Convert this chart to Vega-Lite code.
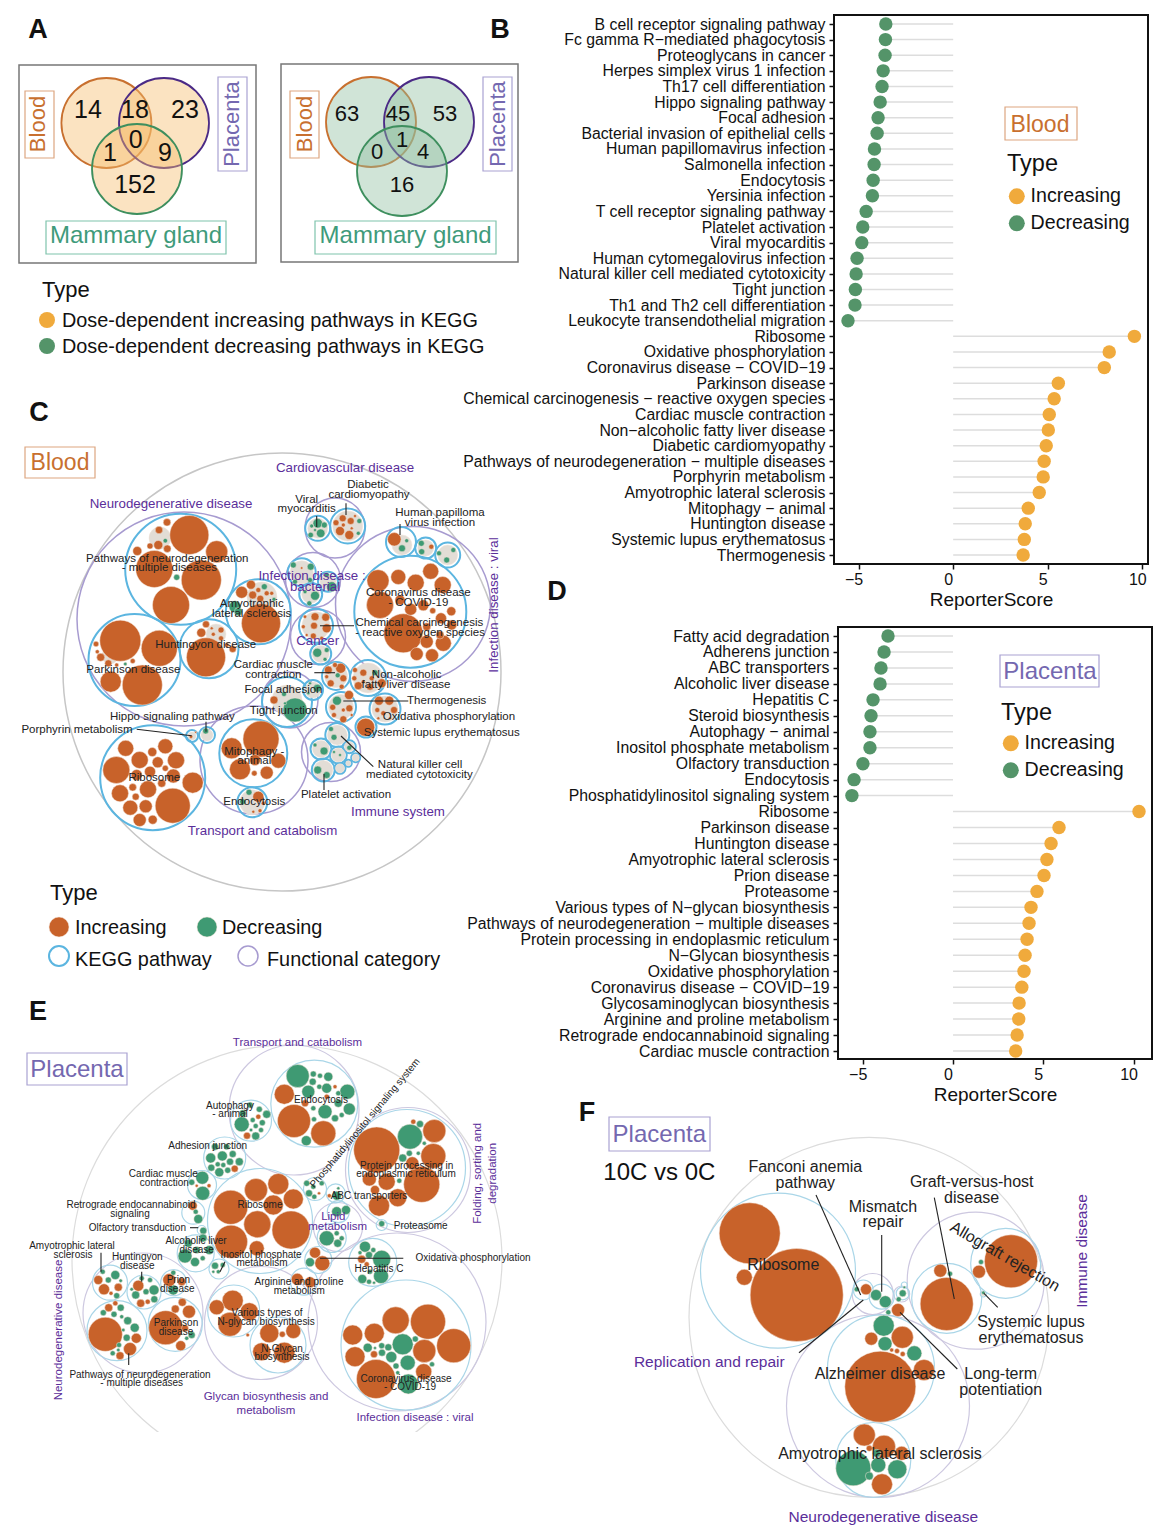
{"$schema":"https://vega.github.io/schema/vega-lite/v6.json","width":1176,"height":1538,"autosize":{"type":"none"},"padding":0,"background":"white","config":{"font":"Liberation Sans","view":{"stroke":null},"legend":{"titleFontWeight":"normal"}},
"datasets":{
"boxes":[
{"kind":"frameGrey","x":19,"y":65,"x2":256,"y2":263},{"kind":"frameGrey","x":281,"y":64,"x2":518,"y2":262},
{"kind":"frameBlack","x":834,"y":15,"x2":1148,"y2":564},{"kind":"frameBlack","x":838,"y":627,"x2":1152,"y2":1059},
{"kind":"blood","x":25,"y":91,"x2":54,"y2":158},{"kind":"placenta","x":218,"y":77,"x2":247,"y2":171},{"kind":"mammary","x":46,"y":221,"x2":226,"y2":254},
{"kind":"blood","x":290,"y":91,"x2":319,"y2":158},{"kind":"placenta","x":483,"y":77,"x2":512,"y2":171},{"kind":"mammary","x":315,"y":221,"x2":496,"y2":254},
{"kind":"blood","x":25,"y":447,"x2":95,"y2":478},{"kind":"blood","x":1005,"y":107,"x2":1077,"y2":140},{"kind":"placenta","x":1000,"y":655,"x2":1099,"y2":687},{"kind":"placenta","x":27,"y":1053,"x2":127,"y2":1085},{"kind":"placenta","x":609,"y":1117,"x2":710,"y2":1151}],
"mask":[{"x":100,"y":1432,"x2":520,"y2":1490}],
"venn":[
{"type":"inc","set":"blood","x":106.4,"y":123,"d":90},{"type":"inc","set":"placenta","x":164,"y":123,"d":90},{"type":"inc","set":"mammary","x":137,"y":169,"d":90},
{"type":"dec","set":"blood","x":371,"y":122,"d":90},{"type":"dec","set":"placenta","x":429,"y":122,"d":90},{"type":"dec","set":"mammary","x":402,"y":171,"d":90}],
"rings":[
{"kind":"outer","x":282,"y":672,"d":438},
{"kind":"func","x":184,"y":619,"d":214},{"kind":"func","x":335,"y":528,"d":60},{"kind":"func","x":413,"y":604,"d":155},{"kind":"func","x":313,"y":580,"d":55},{"kind":"func","x":318,"y":637,"d":55},{"kind":"func","x":331,"y":752,"d":59},{"kind":"func","x":254,"y":760,"d":108},{"kind":"func","x":290,"y":700,"d":56},
{"kind":"kegg","x":180.7,"y":569.3,"d":111},{"kind":"kegg","x":258.3,"y":611.7,"d":65},{"kind":"kegg","x":209,"y":648.7,"d":59},{"kind":"kegg","x":134.5,"y":660,"d":92},{"kind":"kegg","x":152.7,"y":777.7,"d":105},{"kind":"kegg","x":253.3,"y":753.3,"d":68},{"kind":"kegg","x":252.3,"y":802.3,"d":30},{"kind":"kegg","x":410.3,"y":611.7,"d":112},{"kind":"kegg","x":401,"y":542,"d":30},{"kind":"kegg","x":425.7,"y":548,"d":21},{"kind":"kegg","x":447.7,"y":555,"d":25},{"kind":"kegg","x":317.7,"y":528.3,"d":25},{"kind":"kegg","x":347.7,"y":526,"d":35},{"kind":"kegg","x":301.7,"y":572.3,"d":28},{"kind":"kegg","x":328,"y":581.7,"d":20},{"kind":"kegg","x":310.7,"y":594.3,"d":23},{"kind":"kegg","x":316,"y":625.7,"d":34},{"kind":"kegg","x":320.7,"y":654,"d":21},{"kind":"kegg","x":287,"y":702,"d":50},{"kind":"kegg","x":313,"y":690,"d":20},{"kind":"kegg","x":207,"y":735,"d":16},{"kind":"kegg","x":192,"y":736,"d":12},{"kind":"kegg","x":336,"y":676,"d":28},{"kind":"kegg","x":368,"y":678,"d":36},{"kind":"kegg","x":341,"y":707,"d":30},{"kind":"kegg","x":385,"y":709,"d":31},{"kind":"kegg","x":366,"y":727,"d":21},{"kind":"kegg","x":337.3,"y":735,"d":24},{"kind":"kegg","x":321,"y":749,"d":21},{"kind":"kegg","x":338.3,"y":755,"d":17},{"kind":"kegg","x":349.3,"y":746.7,"d":13},{"kind":"kegg","x":323.3,"y":770,"d":23},{"kind":"kegg","x":340,"y":768.3,"d":11},{"kind":"kegg","x":348.3,"y":763.3,"d":7},{"kind":"kegg","x":355.7,"y":757.7,"d":9},
{"kind":"kegg","x":59,"y":956,"d":20},{"kind":"func","x":248,"y":956,"d":20},
{"kind":"outerThin","x":287,"y":1260,"d":430},
{"kind":"funcThin","x":294,"y":1110,"d":130},{"kind":"funcThin","x":408,"y":1170,"d":125},{"kind":"funcThin","x":338,"y":1227,"d":49},{"kind":"funcThin","x":397,"y":1322,"d":178},{"kind":"funcThin","x":261,"y":1323,"d":113},{"kind":"funcThin","x":143,"y":1313,"d":120},
{"kind":"keggThin","x":260,"y":1221,"d":105},{"kind":"keggThin","x":251,"y":1120.7,"d":41},{"kind":"keggThin","x":314.3,"y":1103.7,"d":87},{"kind":"keggThin","x":224.7,"y":1158,"d":42},{"kind":"keggThin","x":202,"y":1185,"d":29},{"kind":"keggThin","x":193.3,"y":1212.7,"d":23},{"kind":"keggThin","x":201.7,"y":1230,"d":9},{"kind":"keggThin","x":195.7,"y":1253.3,"d":37},{"kind":"keggThin","x":219,"y":1269,"d":20},{"kind":"keggThin","x":315,"y":1189,"d":23},{"kind":"keggThin","x":335.7,"y":1193.3,"d":19},{"kind":"keggThin","x":407,"y":1168,"d":117},{"kind":"keggThin","x":381.7,"y":1225,"d":11},{"kind":"keggThin","x":338.3,"y":1211.7,"d":22},{"kind":"keggThin","x":331.7,"y":1238,"d":29},{"kind":"keggThin","x":372.7,"y":1262.3,"d":48},{"kind":"keggThin","x":406,"y":1345,"d":130},{"kind":"keggThin","x":318.3,"y":1260,"d":27},{"kind":"keggThin","x":304,"y":1281.7,"d":27},{"kind":"keggThin","x":233.7,"y":1311,"d":52},{"kind":"keggThin","x":278,"y":1345,"d":56},{"kind":"keggThin","x":110,"y":1282.7,"d":35},{"kind":"keggThin","x":144,"y":1292,"d":34},{"kind":"keggThin","x":173.7,"y":1282.7,"d":26},{"kind":"keggThin","x":117,"y":1330.7,"d":60},{"kind":"keggThin","x":175.3,"y":1324.3,"d":54},
{"kind":"outerThin","x":869,"y":1317.3,"d":360},
{"kind":"funcThin","x":878,"y":1406,"d":183},{"kind":"funcThin","x":975.7,"y":1280.7,"d":137},{"kind":"funcThin","x":872.7,"y":1294,"d":41},{"kind":"funcThin","x":901.7,"y":1294,"d":16},
{"kind":"keggThin","x":778,"y":1270.7,"d":155},{"kind":"keggThin","x":881,"y":1368.3,"d":107},{"kind":"keggThin","x":873.3,"y":1460,"d":75},{"kind":"keggThin","x":946.7,"y":1298.3,"d":70},{"kind":"keggThin","x":1005.7,"y":1263.3,"d":70},{"kind":"keggThin","x":863.3,"y":1290,"d":20},{"kind":"keggThin","x":881.7,"y":1296.7,"d":25},{"kind":"keggThin","x":902.7,"y":1293.3,"d":13},{"kind":"keggThin","x":904.3,"y":1285,"d":6},{"kind":"keggThin","x":983.3,"y":1294,"d":6}],
"leaves":[
{"kind":"pale","x":160,"y":538,"d":22},{"kind":"pale","x":262,"y":597,"d":30},{"kind":"pale","x":216,"y":634,"d":20},{"kind":"pale","x":110,"y":656,"d":16},{"kind":"pale","x":402,"y":545,"d":20},{"kind":"pale","x":425.7,"y":548,"d":16},{"kind":"pale","x":447.7,"y":555,"d":20},{"kind":"pale","x":317.7,"y":528.3,"d":20},{"kind":"pale","x":347.7,"y":526,"d":30},{"kind":"pale","x":301.7,"y":572.3,"d":23},{"kind":"pale","x":328,"y":581.7,"d":16},{"kind":"pale","x":310.7,"y":594.3,"d":18},{"kind":"pale","x":316,"y":625.7,"d":28},{"kind":"pale","x":320.7,"y":654,"d":17},{"kind":"pale","x":287,"y":700,"d":30},{"kind":"pale","x":313,"y":690,"d":16},{"kind":"pale","x":207,"y":735,"d":12},{"kind":"pale","x":192,"y":736,"d":8},{"kind":"pale","x":336,"y":676,"d":23},{"kind":"pale","x":368,"y":678,"d":30},{"kind":"pale","x":341,"y":707,"d":25},{"kind":"pale","x":385,"y":709,"d":26},{"kind":"pale","x":337.3,"y":735,"d":20},{"kind":"pale","x":321,"y":749,"d":17},{"kind":"pale","x":338.3,"y":755,"d":14},{"kind":"pale","x":349.3,"y":746.7,"d":10},{"kind":"pale","x":323.3,"y":770,"d":19},{"kind":"pale","x":340,"y":768.3,"d":9},{"kind":"pale","x":348.3,"y":763.3,"d":5},{"kind":"pale","x":355.7,"y":757.7,"d":7},{"kind":"pale","x":252.3,"y":802.3,"d":25},{"kind":"pale","x":983.3,"y":1294,"d":4},
{"kind":"inc","x":189.3,"y":535,"d":39},{"kind":"inc","x":154.3,"y":569,"d":37},{"kind":"inc","x":201.3,"y":580,"d":40},{"kind":"inc","x":171,"y":605,"d":37},{"kind":"inc","x":216.7,"y":551.7,"d":22},{"kind":"inc","x":137.3,"y":551,"d":9},{"kind":"inc","x":159,"y":530,"d":7.5},{"kind":"inc","x":167,"y":522.3,"d":7.5},{"kind":"inc","x":158.3,"y":545,"d":9},{"kind":"inc","x":167.3,"y":548.7,"d":7.5},{"kind":"inc","x":150,"y":546,"d":6},{"kind":"dec","x":176.7,"y":577.3,"d":6},{"kind":"dec","x":165.3,"y":540.7,"d":4.5},
{"kind":"inc","x":261,"y":623.3,"d":39},{"kind":"inc","x":241.7,"y":592.3,"d":12},{"kind":"inc","x":251,"y":584.7,"d":9},{"kind":"inc","x":252.7,"y":595,"d":8},{"kind":"inc","x":260.3,"y":598.7,"d":7},{"kind":"dec","x":264.3,"y":586.7,"d":6},{"kind":"inc","x":266.7,"y":593.3,"d":5},{"kind":"inc","x":271.7,"y":593.3,"d":4},{"kind":"dec","x":235,"y":606.7,"d":12},{"kind":"dec","x":238.3,"y":611.7,"d":8},{"kind":"dec","x":274,"y":599.3,"d":4},{"kind":"inc","x":258.3,"y":590,"d":5},
{"kind":"inc","x":206,"y":657.3,"d":39},{"kind":"inc","x":201.3,"y":632.7,"d":9},{"kind":"inc","x":206,"y":624.3,"d":7},{"kind":"inc","x":221,"y":630,"d":6},{"kind":"inc","x":221,"y":638.3,"d":5},{"kind":"inc","x":232.7,"y":649,"d":7},{"kind":"inc","x":213.3,"y":634.3,"d":4},{"kind":"inc","x":211.7,"y":628.3,"d":3},{"kind":"inc","x":226.7,"y":645,"d":4.5},
{"kind":"inc","x":120.3,"y":640.7,"d":41},{"kind":"inc","x":159.3,"y":648.3,"d":36},{"kind":"inc","x":142.3,"y":685,"d":40},{"kind":"inc","x":110.7,"y":681.7,"d":21},{"kind":"inc","x":96,"y":644,"d":5.5},{"kind":"inc","x":100.7,"y":657.3,"d":8},{"kind":"inc","x":108.3,"y":663.3,"d":7},{"kind":"inc","x":132.7,"y":661,"d":5},{"kind":"dec","x":125.3,"y":664,"d":3.5},{"kind":"inc","x":97.3,"y":651.7,"d":4},{"kind":"inc","x":116.7,"y":665,"d":4},
{"kind":"inc","x":116.3,"y":770,"d":27},{"kind":"inc","x":172.7,"y":805.7,"d":35},{"kind":"inc","x":192.7,"y":782.7,"d":21},{"kind":"inc","x":176,"y":760.3,"d":17},{"kind":"inc","x":139.7,"y":760,"d":17},{"kind":"inc","x":125.7,"y":748.3,"d":16},{"kind":"inc","x":165.3,"y":746.3,"d":15},{"kind":"inc","x":152.3,"y":752,"d":9},{"kind":"inc","x":157.7,"y":762.3,"d":11},{"kind":"inc","x":120,"y":793.3,"d":17},{"kind":"inc","x":148,"y":789.3,"d":17},{"kind":"inc","x":130.3,"y":807.7,"d":15},{"kind":"inc","x":145.7,"y":806.3,"d":13},{"kind":"inc","x":139.7,"y":820,"d":13},{"kind":"inc","x":152.7,"y":819.7,"d":9},{"kind":"inc","x":132.7,"y":787.3,"d":7.5},{"kind":"inc","x":135.7,"y":796.7,"d":7},{"kind":"inc","x":136.7,"y":775,"d":11},{"kind":"inc","x":150,"y":771.7,"d":11},{"kind":"inc","x":165.3,"y":768.3,"d":6},{"kind":"inc","x":173.3,"y":776,"d":14},{"kind":"inc","x":161.7,"y":783.3,"d":8},
{"kind":"inc","x":261,"y":739,"d":36},{"kind":"inc","x":231.7,"y":748.3,"d":21},{"kind":"inc","x":240,"y":769.3,"d":21},{"kind":"inc","x":278.3,"y":760.7,"d":15},{"kind":"inc","x":266.7,"y":772.7,"d":13},{"kind":"inc","x":254.3,"y":773.3,"d":5.5},{"kind":"inc","x":255,"y":760,"d":11},
{"kind":"inc","x":258.3,"y":796.7,"d":11},{"kind":"dec","x":249,"y":792.3,"d":6},{"kind":"inc","x":260,"y":810.7,"d":4},{"kind":"inc","x":253.3,"y":811.7,"d":3},{"kind":"dec","x":242.7,"y":801.7,"d":6},{"kind":"inc","x":263.3,"y":803.3,"d":4},
{"kind":"dec","x":205.7,"y":731,"d":6},{"kind":"inc","x":191,"y":736.7,"d":3.5},{"kind":"inc","x":195.7,"y":732.3,"d":2},
{"kind":"inc","x":378,"y":580.7,"d":22},{"kind":"inc","x":398.3,"y":577,"d":15},{"kind":"inc","x":415.7,"y":582.7,"d":17},{"kind":"inc","x":430.7,"y":571.3,"d":16},{"kind":"inc","x":442.7,"y":585,"d":17},{"kind":"inc","x":380,"y":605,"d":27},{"kind":"inc","x":403.3,"y":633.3,"d":39},{"kind":"inc","x":416.7,"y":654,"d":13},{"kind":"inc","x":432,"y":655.3,"d":13},{"kind":"inc","x":443.3,"y":643.3,"d":16},{"kind":"inc","x":426.7,"y":641.7,"d":13},{"kind":"inc","x":441,"y":618.3,"d":11},{"kind":"inc","x":451.3,"y":611.3,"d":9},{"kind":"inc","x":451.7,"y":625,"d":10},{"kind":"inc","x":423.3,"y":605.3,"d":11},{"kind":"inc","x":410.7,"y":609.3,"d":12},{"kind":"inc","x":432.7,"y":610.7,"d":6},{"kind":"inc","x":400,"y":600,"d":10},{"kind":"inc","x":440,"y":635,"d":8},{"kind":"inc","x":426.7,"y":626.7,"d":8},
{"kind":"inc","x":394.3,"y":539.3,"d":13.5},{"kind":"dec","x":402,"y":548.3,"d":7},{"kind":"dec","x":406.7,"y":540.7,"d":4},{"kind":"dec","x":421.3,"y":543.3,"d":6},{"kind":"dec","x":421.7,"y":551.7,"d":6},{"kind":"inc","x":431.3,"y":546.7,"d":5},{"kind":"dec","x":446.7,"y":560,"d":6},{"kind":"dec","x":453.3,"y":550,"d":5},{"kind":"dec","x":439,"y":553.3,"d":5},
{"kind":"dec","x":317.7,"y":523.3,"d":9.5},{"kind":"dec","x":324.3,"y":525,"d":6},{"kind":"dec","x":320.7,"y":533.3,"d":8.5},{"kind":"dec","x":310.7,"y":535,"d":5.5},{"kind":"dec","x":311.7,"y":526,"d":4},{"kind":"dec","x":315,"y":530,"d":3},
{"kind":"inc","x":349.3,"y":535,"d":9},{"kind":"inc","x":340,"y":531,"d":9},{"kind":"inc","x":342.7,"y":518.3,"d":7},{"kind":"inc","x":336,"y":522.7,"d":6},{"kind":"inc","x":350.7,"y":521,"d":7},{"kind":"dec","x":359.3,"y":521,"d":5},{"kind":"dec","x":358.3,"y":533.3,"d":4},{"kind":"inc","x":355,"y":516,"d":3},{"kind":"inc","x":343.3,"y":525,"d":4},{"kind":"inc","x":351.7,"y":528.3,"d":3},
{"kind":"dec","x":293.3,"y":565,"d":6},{"kind":"dec","x":310.7,"y":566.7,"d":7},{"kind":"dec","x":295,"y":581.7,"d":5},{"kind":"inc","x":301.7,"y":568,"d":2.5},{"kind":"dec","x":310,"y":580,"d":5},{"kind":"dec","x":331.7,"y":586.7,"d":10},{"kind":"dec","x":326.7,"y":575,"d":5},{"kind":"dec","x":315,"y":595.7,"d":9},{"kind":"dec","x":305,"y":591.7,"d":4},{"kind":"dec","x":309.3,"y":603.3,"d":5},
{"kind":"inc","x":315,"y":616.7,"d":8},{"kind":"inc","x":325.7,"y":617.3,"d":8},{"kind":"inc","x":326.7,"y":628.3,"d":9},{"kind":"inc","x":314,"y":625.7,"d":7},{"kind":"inc","x":305,"y":616.7,"d":3.5},{"kind":"inc","x":303.3,"y":626.7,"d":4},{"kind":"inc","x":313.3,"y":636,"d":6},{"kind":"inc","x":321.7,"y":638.3,"d":4},{"kind":"inc","x":306.7,"y":635,"d":3},
{"kind":"dec","x":317.3,"y":652.7,"d":9},{"kind":"dec","x":326.7,"y":650,"d":5},{"kind":"dec","x":325,"y":659.3,"d":4},
{"kind":"inc","x":340.7,"y":668.3,"d":10},{"kind":"inc","x":328.3,"y":670,"d":8},{"kind":"inc","x":330.7,"y":683.3,"d":7},{"kind":"inc","x":343.3,"y":678.3,"d":7},{"kind":"dec","x":337.7,"y":675.3,"d":5},{"kind":"inc","x":341.7,"y":686.7,"d":5},{"kind":"inc","x":335,"y":665,"d":5},{"kind":"inc","x":326.7,"y":676.7,"d":4},
{"kind":"inc","x":363.3,"y":672.7,"d":7},{"kind":"inc","x":355,"y":670,"d":5},{"kind":"inc","x":354.3,"y":678.3,"d":5},{"kind":"inc","x":358.3,"y":685.7,"d":8},{"kind":"inc","x":381.7,"y":683.3,"d":9},{"kind":"dec","x":375,"y":672.7,"d":6},{"kind":"inc","x":370,"y":686.7,"d":7},{"kind":"inc","x":371.7,"y":678.3,"d":5},{"kind":"inc","x":363.3,"y":681.7,"d":4},
{"kind":"dec","x":337,"y":700.7,"d":9},{"kind":"inc","x":349,"y":695,"d":9},{"kind":"inc","x":332.7,"y":707.3,"d":6},{"kind":"inc","x":343.3,"y":719.3,"d":7},{"kind":"inc","x":349.3,"y":708.3,"d":7},{"kind":"inc","x":334,"y":715,"d":5},{"kind":"inc","x":343.3,"y":710,"d":4},{"kind":"inc","x":351.7,"y":715,"d":3},
{"kind":"inc","x":379,"y":700.7,"d":9},{"kind":"inc","x":389.3,"y":700.7,"d":9},{"kind":"inc","x":394,"y":710,"d":7},{"kind":"inc","x":377.3,"y":710,"d":5},{"kind":"inc","x":383.3,"y":713.3,"d":5},{"kind":"inc","x":390,"y":718.3,"d":3},{"kind":"inc","x":378.3,"y":718.3,"d":3},
{"kind":"inc","x":365.7,"y":727.3,"d":18},
{"kind":"dec","x":295,"y":710,"d":24},{"kind":"inc","x":274,"y":700,"d":8},{"kind":"dec","x":284,"y":694,"d":5},{"kind":"dec","x":285,"y":703.3,"d":3},
{"kind":"dec","x":317.3,"y":688.3,"d":8},{"kind":"dec","x":310,"y":683.3,"d":3},{"kind":"dec","x":308.3,"y":693.3,"d":3},
{"kind":"dec","x":334,"y":737.3,"d":6},{"kind":"dec","x":331,"y":729,"d":5},{"kind":"dec","x":324,"y":751,"d":8},{"kind":"dec","x":315,"y":745,"d":4},{"kind":"dec","x":349.3,"y":747.7,"d":5},{"kind":"dec","x":317.7,"y":770,"d":8},{"kind":"dec","x":326.7,"y":775,"d":7},{"kind":"dec","x":334,"y":752,"d":3},{"kind":"dec","x":340,"y":755,"d":3},
{"kind":"inc","x":59,"y":927,"d":20},{"kind":"dec","x":207,"y":927,"d":20},
{"kind":"dec","x":297.7,"y":1076,"d":23},{"kind":"inc","x":284.3,"y":1094.3,"d":20},{"kind":"inc","x":294,"y":1121,"d":33},{"kind":"inc","x":323.3,"y":1133.3,"d":25},{"kind":"dec","x":347.3,"y":1091.7,"d":15},{"kind":"dec","x":308.3,"y":1091.7,"d":13},{"kind":"dec","x":325,"y":1111.7,"d":14},{"kind":"dec","x":349.3,"y":1109,"d":12},{"kind":"dec","x":326.7,"y":1088.3,"d":10},{"kind":"dec","x":328.3,"y":1076.7,"d":9},{"kind":"dec","x":306.3,"y":1140.7,"d":10},{"kind":"dec","x":313.3,"y":1074,"d":6},{"kind":"dec","x":312.7,"y":1081.7,"d":7},{"kind":"dec","x":335,"y":1118.3,"d":7},{"kind":"dec","x":338.3,"y":1103.3,"d":8},{"kind":"dec","x":313.3,"y":1108.3,"d":5},{"kind":"dec","x":314,"y":1119.3,"d":5},{"kind":"dec","x":341.7,"y":1115,"d":5},{"kind":"dec","x":319.3,"y":1086.7,"d":5},{"kind":"dec","x":320,"y":1075.7,"d":5},{"kind":"dec","x":338.3,"y":1093.3,"d":5},{"kind":"inc","x":335,"y":1086.7,"d":4},{"kind":"inc","x":326.7,"y":1096.7,"d":5},{"kind":"inc","x":305,"y":1103.3,"d":7},
{"kind":"dec","x":241.7,"y":1124.3,"d":15},{"kind":"dec","x":266.7,"y":1114.3,"d":8},{"kind":"dec","x":255.7,"y":1136,"d":8},{"kind":"inc","x":247,"y":1135.7,"d":7},{"kind":"dec","x":259.3,"y":1109.3,"d":6},{"kind":"dec","x":252.7,"y":1120,"d":5},{"kind":"dec","x":262.3,"y":1122.7,"d":6},{"kind":"dec","x":255.7,"y":1126,"d":5},{"kind":"dec","x":261,"y":1130,"d":5},{"kind":"dec","x":251,"y":1130,"d":3.5},{"kind":"inc","x":258.3,"y":1116.7,"d":5},{"kind":"dec","x":250,"y":1105,"d":6},{"kind":"dec","x":242.7,"y":1113.3,"d":7},
{"kind":"dec","x":222.3,"y":1156,"d":10},{"kind":"dec","x":210.7,"y":1158,"d":10},{"kind":"dec","x":232.7,"y":1154,"d":7},{"kind":"dec","x":230,"y":1161.7,"d":7},{"kind":"dec","x":239.3,"y":1161.7,"d":8},{"kind":"dec","x":219.3,"y":1172.3,"d":9},{"kind":"dec","x":211.3,"y":1167.7,"d":7},{"kind":"dec","x":227.7,"y":1170.3,"d":6},{"kind":"inc","x":234.7,"y":1168.7,"d":7},{"kind":"dec","x":217.7,"y":1164.3,"d":5},{"kind":"dec","x":223.3,"y":1165,"d":5},{"kind":"dec","x":215,"y":1146.7,"d":7},{"kind":"dec","x":226.7,"y":1146.7,"d":6},
{"kind":"dec","x":202.3,"y":1177.7,"d":13},{"kind":"dec","x":202.7,"y":1193.3,"d":14},{"kind":"dec","x":191.7,"y":1182.3,"d":6},{"kind":"inc","x":196.7,"y":1185.7,"d":3},{"kind":"inc","x":209,"y":1185.7,"d":4},
{"kind":"inc","x":192.7,"y":1205.7,"d":9},{"kind":"dec","x":198.3,"y":1219,"d":9},{"kind":"dec","x":195.7,"y":1211.7,"d":5},{"kind":"dec","x":203.3,"y":1230.7,"d":7},
{"kind":"dec","x":185,"y":1256,"d":14},{"kind":"dec","x":209.3,"y":1250,"d":9},{"kind":"dec","x":195,"y":1262,"d":9},{"kind":"dec","x":203,"y":1238,"d":8},{"kind":"dec","x":188.3,"y":1243.3,"d":8},{"kind":"dec","x":196.7,"y":1250,"d":7},{"kind":"dec","x":202.7,"y":1258.3,"d":5},
{"kind":"dec","x":215,"y":1265.7,"d":7},{"kind":"dec","x":222.7,"y":1265,"d":5},{"kind":"dec","x":218.3,"y":1271.7,"d":4},{"kind":"dec","x":213.3,"y":1271.7,"d":3},
{"kind":"inc","x":230.7,"y":1207.3,"d":34},{"kind":"inc","x":256,"y":1190,"d":23},{"kind":"inc","x":278.3,"y":1184,"d":21},{"kind":"inc","x":273.3,"y":1205,"d":20},{"kind":"inc","x":257.3,"y":1224.3,"d":27},{"kind":"inc","x":231,"y":1241.7,"d":33},{"kind":"inc","x":256.7,"y":1248.3,"d":15},{"kind":"inc","x":293.3,"y":1199,"d":20},{"kind":"inc","x":291,"y":1230,"d":38},
{"kind":"inc","x":376.7,"y":1150,"d":46},{"kind":"dec","x":410,"y":1136.7,"d":25},{"kind":"inc","x":434.3,"y":1131,"d":23},{"kind":"inc","x":433.3,"y":1156,"d":25},{"kind":"inc","x":421.7,"y":1184.3,"d":36},{"kind":"inc","x":412.3,"y":1163.3,"d":13},{"kind":"inc","x":386.7,"y":1181.7,"d":17},{"kind":"inc","x":369.3,"y":1179,"d":14},{"kind":"inc","x":397.7,"y":1197.7,"d":18},{"kind":"inc","x":379,"y":1205.7,"d":21},{"kind":"inc","x":375,"y":1190,"d":9},{"kind":"inc","x":413.3,"y":1121.7,"d":5},{"kind":"dec","x":420,"y":1124,"d":7},{"kind":"dec","x":402.7,"y":1158,"d":8},{"kind":"dec","x":409.3,"y":1153.3,"d":6},{"kind":"dec","x":418.3,"y":1153.3,"d":4},{"kind":"dec","x":424.3,"y":1143.3,"d":4},{"kind":"dec","x":399.3,"y":1180.7,"d":5},
{"kind":"dec","x":309,"y":1193.3,"d":7},{"kind":"dec","x":306.7,"y":1183.3,"d":6},{"kind":"dec","x":314.3,"y":1196.7,"d":5},{"kind":"dec","x":313.3,"y":1186.7,"d":5},{"kind":"inc","x":319,"y":1193.3,"d":3},{"kind":"dec","x":321.7,"y":1183.3,"d":5},
{"kind":"dec","x":336.7,"y":1195.7,"d":9},{"kind":"inc","x":329.3,"y":1195.7,"d":4},{"kind":"dec","x":338.3,"y":1188.3,"d":3},{"kind":"dec","x":381.7,"y":1223.7,"d":6},
{"kind":"dec","x":336.7,"y":1211.7,"d":10},{"kind":"dec","x":346,"y":1210,"d":9},{"kind":"dec","x":326.7,"y":1238.3,"d":15},{"kind":"dec","x":337.7,"y":1243.3,"d":8},{"kind":"dec","x":336.7,"y":1233.3,"d":5},{"kind":"dec","x":341.7,"y":1238.3,"d":5},
{"kind":"dec","x":381.7,"y":1259.3,"d":18},{"kind":"dec","x":381,"y":1276,"d":15},{"kind":"dec","x":365,"y":1246.7,"d":11},{"kind":"dec","x":362.3,"y":1279,"d":9},{"kind":"inc","x":361.7,"y":1259.3,"d":8},{"kind":"dec","x":369,"y":1255,"d":7},{"kind":"dec","x":369,"y":1281.7,"d":5},{"kind":"dec","x":373.3,"y":1250,"d":5},{"kind":"inc","x":366.7,"y":1264.3,"d":5},{"kind":"dec","x":360,"y":1252.7,"d":4},{"kind":"dec","x":370,"y":1271.7,"d":5},{"kind":"dec","x":374,"y":1282.7,"d":3},
{"kind":"inc","x":315,"y":1252.7,"d":11},{"kind":"inc","x":322.3,"y":1263.3,"d":15},{"kind":"dec","x":310,"y":1262.3,"d":9},{"kind":"inc","x":297.3,"y":1279.3,"d":12},{"kind":"inc","x":310,"y":1282.3,"d":11},
{"kind":"inc","x":232.7,"y":1300.7,"d":21},{"kind":"inc","x":216.7,"y":1307.3,"d":15},{"kind":"inc","x":249.3,"y":1311.7,"d":18},{"kind":"inc","x":230,"y":1324.3,"d":24},
{"kind":"inc","x":269.3,"y":1333.3,"d":19},{"kind":"inc","x":293.3,"y":1331,"d":15},{"kind":"inc","x":282.3,"y":1334.3,"d":6},{"kind":"inc","x":284.3,"y":1352.7,"d":21},{"kind":"inc","x":261.7,"y":1351.7,"d":18},{"kind":"inc","x":247.7,"y":1335,"d":3.5},
{"kind":"inc","x":428,"y":1321.7,"d":35},{"kind":"inc","x":395.7,"y":1320.3,"d":27},{"kind":"inc","x":453.7,"y":1345.7,"d":34},{"kind":"inc","x":352.7,"y":1335,"d":20},{"kind":"inc","x":374.3,"y":1333.3,"d":20},{"kind":"inc","x":355,"y":1356.7,"d":20},{"kind":"inc","x":376,"y":1379,"d":39},{"kind":"inc","x":424.3,"y":1351,"d":23},{"kind":"inc","x":423.7,"y":1371.7,"d":16},{"kind":"dec","x":402.7,"y":1344.3,"d":21},{"kind":"dec","x":407.7,"y":1362.7,"d":15},{"kind":"dec","x":408.3,"y":1384,"d":20},{"kind":"dec","x":391.3,"y":1357,"d":11},{"kind":"dec","x":367.7,"y":1347.7,"d":9},{"kind":"dec","x":388.3,"y":1347.3,"d":7},{"kind":"dec","x":381.7,"y":1345.7,"d":6},{"kind":"dec","x":382,"y":1352.7,"d":7},{"kind":"inc","x":374,"y":1354.3,"d":7},{"kind":"dec","x":415.3,"y":1339,"d":6},{"kind":"dec","x":432,"y":1364.3,"d":5},{"kind":"dec","x":396,"y":1366,"d":6},{"kind":"dec","x":397.7,"y":1372.7,"d":4},{"kind":"dec","x":375,"y":1348,"d":3},
{"kind":"dec","x":115.3,"y":1275,"d":9},{"kind":"inc","x":98.3,"y":1280,"d":9},{"kind":"inc","x":104,"y":1289.3,"d":11},{"kind":"inc","x":118.3,"y":1287.3,"d":8},{"kind":"dec","x":108.3,"y":1280,"d":6},{"kind":"dec","x":120.7,"y":1280.7,"d":3.5},{"kind":"dec","x":116.7,"y":1295.7,"d":6},{"kind":"inc","x":111,"y":1293.3,"d":4},{"kind":"dec","x":102.7,"y":1271.7,"d":5},
{"kind":"dec","x":154,"y":1290,"d":10},{"kind":"inc","x":138.3,"y":1285.7,"d":11},{"kind":"dec","x":135.7,"y":1295,"d":8},{"kind":"inc","x":140.7,"y":1303.3,"d":8},{"kind":"dec","x":146,"y":1291.7,"d":6},{"kind":"dec","x":154.3,"y":1299.3,"d":7},{"kind":"inc","x":147.7,"y":1301.7,"d":5},{"kind":"dec","x":150,"y":1280,"d":5},{"kind":"dec","x":131.7,"y":1289.3,"d":3.5},{"kind":"dec","x":141.7,"y":1278.3,"d":5},
{"kind":"dec","x":173.3,"y":1290,"d":10},{"kind":"inc","x":169.3,"y":1280,"d":13},{"kind":"inc","x":181.7,"y":1281.7,"d":8},{"kind":"dec","x":173.3,"y":1272.7,"d":5},
{"kind":"inc","x":105.3,"y":1334.3,"d":34},{"kind":"inc","x":130,"y":1349,"d":13},{"kind":"inc","x":136.3,"y":1338.3,"d":10},{"kind":"dec","x":134.7,"y":1327.7,"d":9},{"kind":"dec","x":127.7,"y":1320.7,"d":8},{"kind":"dec","x":120.7,"y":1307.7,"d":7},{"kind":"inc","x":108.7,"y":1307.7,"d":8},{"kind":"dec","x":114,"y":1314.3,"d":6},{"kind":"dec","x":126.7,"y":1337.7,"d":7},{"kind":"inc","x":120,"y":1355.7,"d":8},{"kind":"dec","x":112.7,"y":1353.3,"d":5},{"kind":"dec","x":103.3,"y":1312.7,"d":6},{"kind":"inc","x":115.3,"y":1303.3,"d":5},{"kind":"dec","x":119,"y":1345,"d":5},{"kind":"dec","x":123.3,"y":1330,"d":3.5},{"kind":"dec","x":121.7,"y":1316.7,"d":4},{"kind":"dec","x":118.3,"y":1350,"d":3.5},
{"kind":"inc","x":165.7,"y":1327.7,"d":34},{"kind":"inc","x":189,"y":1311.7,"d":13},{"kind":"inc","x":182.3,"y":1302.3,"d":8},{"kind":"inc","x":175.3,"y":1309,"d":8},{"kind":"inc","x":180.7,"y":1345.7,"d":10},{"kind":"dec","x":191.7,"y":1335,"d":7},{"kind":"inc","x":185,"y":1328.3,"d":7},{"kind":"dec","x":186.7,"y":1338.3,"d":4},
{"kind":"inc","x":749.7,"y":1233.3,"d":61},{"kind":"inc","x":796.7,"y":1295,"d":93},{"kind":"inc","x":744.3,"y":1277.3,"d":16},
{"kind":"inc","x":880.3,"y":1386.7,"d":71},{"kind":"dec","x":883.7,"y":1325.7,"d":21},{"kind":"inc","x":902.3,"y":1337.3,"d":22},{"kind":"inc","x":871.3,"y":1338.7,"d":13},{"kind":"dec","x":885,"y":1343.7,"d":14},{"kind":"dec","x":914.3,"y":1353.3,"d":15},{"kind":"inc","x":924,"y":1370,"d":21},{"kind":"inc","x":891.7,"y":1350,"d":4},{"kind":"inc","x":897,"y":1351,"d":5},{"kind":"inc","x":902.7,"y":1354,"d":5},
{"kind":"dec","x":853.3,"y":1468.3,"d":35},{"kind":"inc","x":864.3,"y":1435,"d":22},{"kind":"inc","x":884,"y":1446.7,"d":23},{"kind":"inc","x":901.7,"y":1453.3,"d":14},{"kind":"dec","x":897.3,"y":1469.3,"d":19},{"kind":"dec","x":878.3,"y":1465,"d":15},{"kind":"dec","x":869.3,"y":1476,"d":8},{"kind":"inc","x":882,"y":1484.3,"d":21},{"kind":"inc","x":869.3,"y":1448.3,"d":6},{"kind":"dec","x":876.7,"y":1453.3,"d":8},
{"kind":"inc","x":946.7,"y":1304,"d":53},{"kind":"inc","x":940.3,"y":1270.7,"d":13},{"kind":"dec","x":950,"y":1273.7,"d":5},
{"kind":"inc","x":1011,"y":1261.3,"d":53},{"kind":"inc","x":979,"y":1271.7,"d":13},{"kind":"dec","x":981,"y":1262,"d":5},
{"kind":"inc","x":866,"y":1289.3,"d":11},{"kind":"dec","x":856.7,"y":1289.3,"d":5},{"kind":"dec","x":876,"y":1295,"d":11},{"kind":"dec","x":885.3,"y":1301.7,"d":12},{"kind":"dec","x":902.7,"y":1293.3,"d":7},{"kind":"dec","x":898.7,"y":1299.3,"d":5},{"kind":"inc","x":898,"y":1310,"d":13},{"kind":"dec","x":888.3,"y":1312.3,"d":5},{"kind":"dec","x":904.3,"y":1287.3,"d":2.5},{"kind":"dec","x":983.3,"y":1292.7,"d":3.5}],
"bullets":[{"type":"inc","x":47,"y":320,"d":16},{"type":"dec","x":47,"y":346,"d":16}],
"lines":[
{"x":314.3,"y":672.7,"x2":335,"y2":672.7},{"x":343.3,"y":701,"x2":408.3,"y2":701},{"x":341,"y":736,"x2":373.3,"y2":766.7},{"x":324,"y":774,"x2":324,"y2":790},{"x":320,"y":625.7,"x2":354,"y2":625.7},{"x":316.7,"y":516,"x2":316.7,"y2":527},{"x":346,"y":503.3,"x2":346,"y2":515},{"x":400,"y":524,"x2":400,"y2":535},{"x":206,"y":721.7,"x2":206,"y2":731.7},{"x":136.7,"y":729.3,"x2":191.7,"y2":735.7},
{"x":190,"y":1227.7,"x2":198.3,"y2":1227.7},{"x":101,"y":1252.7,"x2":101,"y2":1271.7},{"x":141.7,"y":1271.7,"x2":141.7,"y2":1281.7},{"x":225,"y":1261.7,"x2":220,"y2":1271.7},{"x":128.7,"y":1353.3,"x2":128.7,"y2":1365},{"x":320,"y":1258.3,"x2":403.3,"y2":1258.3},
{"x":816,"y":1195,"x2":860.7,"y2":1295},{"x":881.7,"y":1235,"x2":881.7,"y2":1291.7},{"x":934.3,"y":1197.7,"x2":954.3,"y2":1299},{"x":997.7,"y":1307.3,"x2":984,"y2":1293.3},{"x":900,"y":1312.3,"x2":957.3,"y2":1369},{"x":799,"y":1352.7,"x2":863.3,"y2":1300}],
"panelLabels":[{"text":"A","x":38,"y":30},{"text":"B","x":500,"y":30},{"text":"C","x":39,"y":413},{"text":"D","x":557,"y":592},{"text":"E","x":38,"y":1012},{"text":"F","x":587,"y":1113}],
"labels":[
{"text":"14","group":"numA","x":88,"y":110},{"text":"18","group":"numA","x":135,"y":110},{"text":"23","group":"numA","x":185,"y":110},{"text":"0","group":"numA","x":135.6,"y":140},{"text":"1","group":"numA","x":110,"y":152.5},{"text":"9","group":"numA","x":165,"y":152.5},{"text":"152","group":"numA","x":135,"y":185},
{"text":"63","group":"numB","x":347,"y":114},{"text":"45","group":"numB","x":398,"y":114},{"text":"53","group":"numB","x":445,"y":114},{"text":"1","group":"numB","x":402,"y":140},{"text":"0","group":"numB","x":377,"y":152},{"text":"4","group":"numB","x":423,"y":152},{"text":"16","group":"numB","x":402,"y":185},
{"text":"Mammary gland","group":"mammary","x":136,"y":236},{"text":"Mammary gland","group":"mammary","x":405.6,"y":236},
{"text":"Blood","group":"blood","x":60,"y":463},{"text":"Blood","group":"blood","x":1040,"y":125},{"text":"Placenta","group":"placenta","x":1050,"y":672},{"text":"Placenta","group":"placenta","x":77,"y":1070},{"text":"Placenta","group":"placenta","x":659.3,"y":1135},{"text":"10C vs 0C","group":"plain24","x":659.3,"y":1173},
{"text":"Neurodegenerative disease","group":"cCat","x":171,"y":504},{"text":"Cardiovascular disease","group":"cCat","x":345,"y":468},{"text":"Infection disease :","group":"cCat","x":312,"y":576},{"text":"bacterial","group":"cCat","x":315,"y":587},{"text":"Cancer","group":"cCat","x":317.7,"y":641},{"text":"Immune system","group":"cCat","x":398,"y":812},{"text":"Transport and catabolism","group":"cCat","x":262.5,"y":831},
{"text":"Viral","group":"cLab","x":306.7,"y":500},{"text":"myocarditis","group":"cLab","x":306.7,"y":509.3},{"text":"Diabetic","group":"cLab","x":368,"y":485},{"text":"cardiomyopathy","group":"cLab","x":369,"y":494.7},{"text":"Human papilloma","group":"cLab","x":440,"y":513.3},{"text":"virus infection","group":"cLab","x":440,"y":523.3},{"text":"Coronavirus disease","group":"cLab","x":418.3,"y":593.3},{"text":"- COVID-19","group":"cLab","x":418.3,"y":602.7},{"text":"Chemical carcinogenesis","group":"cLab","x":419.3,"y":623},{"text":"- reactive oxygen species","group":"cLab","x":420,"y":632.7},{"text":"Amyotrophic","group":"cLab","x":251.7,"y":604.3},{"text":"lateral sclerosis","group":"cLab","x":251.7,"y":614},{"text":"Huntingyon disease","group":"cLab","x":205.7,"y":645.3},{"text":"Parkinson disease","group":"cLab","x":133.3,"y":670},{"text":"Pathways of neurodegeneration","group":"cLab","x":167.3,"y":558.7},{"text":"- multiple diseases","group":"cLab","x":169.3,"y":568.3},{"text":"Cardiac muscle","group":"cLab","x":273.3,"y":665},{"text":"contraction","group":"cLab","x":273.3,"y":675},{"text":"Focal adhesion","group":"cLab","x":283.5,"y":690},{"text":"Tight junction","group":"cLab","x":283.7,"y":711},{"text":"Hippo signaling pathway","group":"cLab","x":172.3,"y":716.7},{"text":"Porphyrin metabolism","group":"cLab","x":77,"y":730},{"text":"Ribosome","group":"cLab","x":154.3,"y":778.3},{"text":"Mitophagy -","group":"cLab","x":254.3,"y":752.3},{"text":"animal","group":"cLab","x":254.3,"y":761},{"text":"Endocytosis","group":"cLab","x":254.3,"y":802.3},{"text":"Non-alcoholic","group":"cLab","x":406.7,"y":675},{"text":"fatty liver disease","group":"cLab","x":406,"y":685},{"text":"Thermogenesis","group":"cLab","x":446.7,"y":701},{"text":"Oxidativa phosphorylation","group":"cLab","x":449,"y":717},{"text":"Systemic lupus erythematosus","group":"cLab","x":441.7,"y":733.3},{"text":"Natural killer cell","group":"cLab","x":420,"y":765},{"text":"mediated cytotoxicity","group":"cLab","x":419.3,"y":775},{"text":"Platelet activation","group":"cLab","x":346,"y":795},
{"text":"Transport and catabolism","group":"eCat","x":297.5,"y":1043},{"text":"Glycan biosynthesis and","group":"eCat","x":266,"y":1397},{"text":"metabolism","group":"eCat","x":266,"y":1411},{"text":"Infection disease : viral","group":"eCat","x":415,"y":1418},{"text":"Lipid","group":"eCat","x":333.3,"y":1216.7},{"text":"metabolism","group":"eCat","x":337.7,"y":1226.7},
{"text":"Autophagy","group":"eLab","x":230,"y":1105.7},{"text":"- animal","group":"eLab","x":230,"y":1114.3},{"text":"Endocytosis","group":"eLab","x":321,"y":1100},{"text":"Adhesion junction","group":"eLab","x":207.7,"y":1146.3},{"text":"Cardiac muscle","group":"eLab","x":163.3,"y":1174.3},{"text":"contraction","group":"eLab","x":164.3,"y":1183.3},{"text":"Retrograde endocannabinoid","group":"eLab","x":131,"y":1205},{"text":"signaling","group":"eLab","x":130,"y":1214},{"text":"Olfactory transduction","group":"eLab","x":137.3,"y":1227.7},{"text":"Alcoholic liver","group":"eLab","x":196,"y":1241},{"text":"disease","group":"eLab","x":196.7,"y":1250},{"text":"Inositol phosphate","group":"eLab","x":261,"y":1255},{"text":"metabolism","group":"eLab","x":262,"y":1263},{"text":"Protein processing in","group":"eLab","x":406.7,"y":1165.7},{"text":"endoplasmic reticulum","group":"eLab","x":406,"y":1174.3},{"text":"ABC transporters","group":"eLab","x":369,"y":1195.7},{"text":"Proteasome","group":"eLab","x":420.7,"y":1225.7},{"text":"Ribosome","group":"eLab","x":260,"y":1205},{"text":"Hepatitis C","group":"eLab","x":379,"y":1268.7},{"text":"Oxidativa phosphorylation","group":"eLab","x":473,"y":1258},{"text":"Arginine and proline","group":"eLab","x":299,"y":1282},{"text":"metabolism","group":"eLab","x":299.3,"y":1290.7},{"text":"Various types of","group":"eLab","x":267,"y":1313},{"text":"N-glycan biosynthesis","group":"eLab","x":266,"y":1322},{"text":"N-Glycan","group":"eLab","x":282,"y":1349},{"text":"biosynthesis","group":"eLab","x":282,"y":1357},{"text":"Coronavirus disease","group":"eLab","x":406,"y":1378.7},{"text":"- COVID-19","group":"eLab","x":410,"y":1387},{"text":"Amyotrophic lateral","group":"eLab","x":72,"y":1246},{"text":"sclerosis","group":"eLab","x":73,"y":1255},{"text":"Huntingyon","group":"eLab","x":137.3,"y":1256.7},{"text":"disease","group":"eLab","x":137.3,"y":1265.7},{"text":"Prion","group":"eLab","x":178.3,"y":1280},{"text":"disease","group":"eLab","x":177.3,"y":1289},{"text":"Parkinson","group":"eLab","x":176,"y":1322.7},{"text":"disease","group":"eLab","x":176,"y":1331.7},{"text":"Pathways of neurodegeneration","group":"eLab","x":140,"y":1375},{"text":"- multiple diseases","group":"eLab","x":141.7,"y":1383.3},
{"text":"Fanconi anemia","group":"fLab","x":805.3,"y":1167.3},{"text":"pathway","group":"fLab","x":805.3,"y":1183.3},{"text":"Mismatch","group":"fLab","x":883,"y":1206.7},{"text":"repair","group":"fLab","x":883,"y":1222.3},{"text":"Graft-versus-host","group":"fLab","x":971.7,"y":1181.7},{"text":"disease","group":"fLab","x":971.7,"y":1197.7},{"text":"Ribosome","group":"fLab","x":783.3,"y":1265},{"text":"Alzheimer disease","group":"fLab","x":880,"y":1374},{"text":"Systemic lupus","group":"fLab","x":1031,"y":1322.3},{"text":"erythematosus","group":"fLab","x":1031,"y":1338},{"text":"Long-term","group":"fLab","x":1000.7,"y":1374.3},{"text":"potentiation","group":"fLab","x":1000.7,"y":1389.7},{"text":"Amyotrophic lateral sclerosis","group":"fLab","x":880,"y":1454.3},
{"text":"Replication and repair","group":"fCat","x":709.3,"y":1361.7},{"text":"Neurodegenerative disease","group":"fCat","x":883.3,"y":1516.7}],
"leftLabels":[
{"text":"Type","group":"title","x":42,"y":290},{"text":"Dose-dependent increasing pathways in KEGG","group":"legend","x":62,"y":321},{"text":"Dose-dependent decreasing pathways in KEGG","group":"legend","x":62,"y":347},
{"text":"Type","group":"title","x":50,"y":893},{"text":"Increasing","group":"legend","x":75,"y":928},{"text":"Decreasing","group":"legend","x":222,"y":928},{"text":"KEGG pathway","group":"legend","x":75,"y":960},{"text":"Functional category","group":"legend","x":267,"y":960}],
"verticalLabels":[
{"text":"Blood","group":"blood","x":38,"y":124},{"text":"Placenta","group":"placenta","x":232,"y":124},{"text":"Blood","group":"blood","x":304.5,"y":124},{"text":"Placenta","group":"placenta","x":497.5,"y":124},
{"text":"Infection disease : viral","group":"cCat","x":494,"y":605},{"text":"Folding, sorting and","group":"eCat","x":477.7,"y":1173.3},{"text":"degradation","group":"eCat","x":492.7,"y":1173.3},{"text":"Neurodegenerative disease","group":"eCat","x":59,"y":1330},{"text":"Immune disease","group":"fCat","x":1082.3,"y":1251}],
"slant50":[{"text":"Phosphatidylinositol signaling system","group":"eLab","x":365,"y":1123}],
"slant30":[{"text":"Allograft rejection","group":"fLab","x":1005,"y":1256.7}],
"blood":[
{"pathway":"B cell receptor signaling pathway","score":-3.56,"type":"Decreasing"},{"pathway":"Fc gamma R−mediated phagocytosis","score":-3.58,"type":"Decreasing"},{"pathway":"Proteoglycans in cancer","score":-3.6,"type":"Decreasing"},{"pathway":"Herpes simplex virus 1 infection","score":-3.7,"type":"Decreasing"},{"pathway":"Th17 cell differentiation","score":-3.76,"type":"Decreasing"},{"pathway":"Hippo signaling pathway","score":-3.86,"type":"Decreasing"},{"pathway":"Focal adhesion","score":-3.97,"type":"Decreasing"},{"pathway":"Bacterial invasion of epithelial cells","score":-4.02,"type":"Decreasing"},{"pathway":"Human papillomavirus infection","score":-4.16,"type":"Decreasing"},{"pathway":"Salmonella infection","score":-4.18,"type":"Decreasing"},{"pathway":"Endocytosis","score":-4.23,"type":"Decreasing"},{"pathway":"Yersinia infection","score":-4.27,"type":"Decreasing"},{"pathway":"T cell receptor signaling pathway","score":-4.6,"type":"Decreasing"},{"pathway":"Platelet activation","score":-4.78,"type":"Decreasing"},{"pathway":"Viral myocarditis","score":-4.83,"type":"Decreasing"},{"pathway":"Human cytomegalovirus infection","score":-5.08,"type":"Decreasing"},{"pathway":"Natural killer cell mediated cytotoxicity","score":-5.13,"type":"Decreasing"},{"pathway":"Tight junction","score":-5.17,"type":"Decreasing"},{"pathway":"Th1 and Th2 cell differentiation","score":-5.19,"type":"Decreasing"},{"pathway":"Leukocyte transendothelial migration","score":-5.56,"type":"Decreasing"},
{"pathway":"Ribosome","score":9.58,"type":"Increasing"},{"pathway":"Oxidative phosphorylation","score":8.25,"type":"Increasing"},{"pathway":"Coronavirus disease − COVID−19","score":7.99,"type":"Increasing"},{"pathway":"Parkinson disease","score":5.56,"type":"Increasing"},{"pathway":"Chemical carcinogenesis − reactive oxygen species","score":5.34,"type":"Increasing"},{"pathway":"Cardiac muscle contraction","score":5.08,"type":"Increasing"},{"pathway":"Non−alcoholic fatty liver disease","score":5.03,"type":"Increasing"},{"pathway":"Diabetic cardiomyopathy","score":4.92,"type":"Increasing"},{"pathway":"Pathways of neurodegeneration − multiple diseases","score":4.81,"type":"Increasing"},{"pathway":"Porphyrin metabolism","score":4.76,"type":"Increasing"},{"pathway":"Amyotrophic lateral sclerosis","score":4.55,"type":"Increasing"},{"pathway":"Mitophagy − animal","score":3.97,"type":"Increasing"},{"pathway":"Huntington disease","score":3.81,"type":"Increasing"},{"pathway":"Systemic lupus erythematosus","score":3.76,"type":"Increasing"},{"pathway":"Thermogenesis","score":3.7,"type":"Increasing"}],
"placenta":[
{"pathway":"Fatty acid degradation","score":-3.6,"type":"Decreasing"},{"pathway":"Adherens junction","score":-3.82,"type":"Decreasing"},{"pathway":"ABC transporters","score":-3.99,"type":"Decreasing"},{"pathway":"Alcoholic liver disease","score":-4.04,"type":"Decreasing"},{"pathway":"Hepatitis C","score":-4.43,"type":"Decreasing"},{"pathway":"Steroid biosynthesis","score":-4.54,"type":"Decreasing"},{"pathway":"Autophagy − animal","score":-4.6,"type":"Decreasing"},{"pathway":"Inositol phosphate metabolism","score":-4.6,"type":"Decreasing"},{"pathway":"Olfactory transduction","score":-4.99,"type":"Decreasing"},{"pathway":"Endocytosis","score":-5.48,"type":"Decreasing"},{"pathway":"Phosphatidylinositol signaling system","score":-5.6,"type":"Decreasing"},
{"pathway":"Ribosome","score":10.3,"type":"Increasing"},{"pathway":"Parkinson disease","score":5.87,"type":"Increasing"},{"pathway":"Huntington disease","score":5.43,"type":"Increasing"},{"pathway":"Amyotrophic lateral sclerosis","score":5.2,"type":"Increasing"},{"pathway":"Prion disease","score":5.04,"type":"Increasing"},{"pathway":"Proteasome","score":4.65,"type":"Increasing"},{"pathway":"Various types of N−glycan biosynthesis","score":4.32,"type":"Increasing"},{"pathway":"Pathways of neurodegeneration − multiple diseases","score":4.21,"type":"Increasing"},{"pathway":"Protein processing in endoplasmic reticulum","score":4.1,"type":"Increasing"},{"pathway":"N−Glycan biosynthesis","score":3.99,"type":"Increasing"},{"pathway":"Oxidative phosphorylation","score":3.93,"type":"Increasing"},{"pathway":"Coronavirus disease − COVID−19","score":3.81,"type":"Increasing"},{"pathway":"Glycosaminoglycan biosynthesis","score":3.66,"type":"Increasing"},{"pathway":"Arginine and proline metabolism","score":3.64,"type":"Increasing"},{"pathway":"Retrograde endocannabinoid signaling","score":3.55,"type":"Increasing"},{"pathway":"Cardiac muscle contraction","score":3.47,"type":"Increasing"}]
},
"resolve":{"scale":{"x":"independent","y":"independent","color":"independent"},"axis":{"x":"independent","y":"independent"},"legend":{"color":"independent"}},
"layer":[
{"resolve":{"scale":{"fill":"independent","stroke":"independent","strokeWidth":"independent","size":"independent","color":"independent"}},
"encoding":{
"x":{"field":"x","type":"quantitative","axis":null,"scale":{"domain":[0,1176],"range":[0,1176],"nice":false,"zero":false}},
"y":{"field":"y","type":"quantitative","axis":null,"scale":{"domain":[0,1538],"range":[0,1538],"nice":false,"zero":false}}},
"layer":[
{"data":{"name":"boxes"},"mark":{"type":"rect","fill":"transparent"},"encoding":{"x2":{"field":"x2"},"y2":{"field":"y2"},
 "stroke":{"field":"kind","type":"nominal","legend":null,"scale":{"domain":["frameGrey","frameBlack","blood","placenta","mammary"],"range":["#777777","#111111","#DDA680","#A9A2D2","#7FC3AC"]}},
 "strokeWidth":{"field":"kind","type":"nominal","legend":null,"scale":{"type":"ordinal","domain":["frameGrey","frameBlack","blood","placenta","mammary"],"range":[1.5,2,1.2,1.2,1.2]}}}},
{"data":{"name":"venn"},"mark":{"type":"point","shape":"circle","opacity":1,"fillOpacity":0.42,"strokeWidth":1.8},"encoding":{
 "size":{"field":"d","type":"quantitative","legend":null,"scale":{"type":"pow","exponent":2,"domain":[0,500],"range":[0,250000]}},
 "fill":{"field":"type","type":"nominal","legend":null,"scale":{"domain":["inc","dec"],"range":["#F6BC6C","#8FBF9F"]}},
 "stroke":{"field":"set","type":"nominal","legend":null,"scale":{"domain":["blood","placenta","mammary"],"range":["#C8702F","#4B2A86","#3E8F5E"]}}}},
{"data":{"name":"rings"},"mark":{"type":"point","shape":"circle","opacity":1,"fill":"transparent"},"encoding":{
 "size":{"field":"d","type":"quantitative","legend":null,"scale":{"type":"pow","exponent":2,"domain":[0,500],"range":[0,250000]}},
 "stroke":{"field":"kind","type":"nominal","legend":null,"scale":{"domain":["outer","func","kegg","outerThin","funcThin","keggThin"],"range":["#C6C6C6","#A79BD0","#5BB5E0","#DCDCDC","#CDC8E0","#AAD6E8"]}},
 "strokeWidth":{"field":"kind","type":"nominal","legend":null,"scale":{"type":"ordinal","domain":["outer","func","kegg","outerThin","funcThin","keggThin"],"range":[1.5,1.5,2,1.2,1.2,1.2]}}}},
{"data":{"name":"mask"},"mark":{"type":"rect","fill":"white"},"encoding":{"x2":{"field":"x2"},"y2":{"field":"y2"}}},
{"data":{"name":"leaves"},"mark":{"type":"point","shape":"circle","filled":true,"opacity":1,"stroke":"#F3E2D6","strokeWidth":0.5},"encoding":{
 "size":{"field":"d","type":"quantitative","legend":null,"scale":{"type":"pow","exponent":2,"domain":[0,500],"range":[0,250000]}},
 "fill":{"field":"kind","type":"nominal","legend":null,"scale":{"domain":["inc","dec","pale"],"range":["#C8622A","#3F9A73","#E2DDD6"]}}}},
{"data":{"name":"bullets"},"mark":{"type":"point","shape":"circle","filled":true,"opacity":1},"encoding":{
 "size":{"field":"d","type":"quantitative","legend":null,"scale":{"type":"pow","exponent":2,"domain":[0,500],"range":[0,250000]}},
 "fill":{"field":"type","type":"nominal","legend":null,"scale":{"domain":["inc","dec"],"range":["#F0AA3C","#549469"]}}}},
{"data":{"name":"lines"},"mark":{"type":"rule","color":"#222222","strokeWidth":1.1},"encoding":{"x2":{"field":"x2"},"y2":{"field":"y2"}}},
{"data":{"name":"panelLabels"},"mark":{"type":"text","fontWeight":"bold","fontSize":27,"color":"#111111","align":"center","baseline":"middle"},"encoding":{"text":{"field":"text"}}},
{"data":{"name":"labels"},"mark":{"type":"text","align":"center","baseline":"middle"},"encoding":{"text":{"field":"text"},
 "size":{"field":"group","type":"nominal","legend":null,"scale":{"type":"ordinal","domain":["numA","numB","mammary","blood","placenta","plain24","cCat","cLab","eCat","eLab","fCat","fLab"],"range":[25,22,24,23,24,24,13.3,11.5,11.5,10,15.5,16]}},
 "color":{"field":"group","type":"nominal","legend":null,"scale":{"type":"ordinal","domain":["numA","numB","mammary","blood","placenta","plain24","cCat","cLab","eCat","eLab","fCat","fLab"],"range":["#111111","#111111","#3F9B7B","#C8702F","#7468B0","#111111","#5B2E9A","#222222","#5B2E9A","#222222","#5B2E9A","#222222"]}}}},
{"data":{"name":"leftLabels"},"mark":{"type":"text","align":"left","baseline":"middle","color":"#111111"},"encoding":{"text":{"field":"text"},
 "size":{"field":"group","type":"nominal","legend":null,"scale":{"type":"ordinal","domain":["title","legend"],"range":[22,19.85]}}}},
{"data":{"name":"verticalLabels"},"mark":{"type":"text","align":"center","baseline":"middle","angle":270},"encoding":{"text":{"field":"text"},
 "size":{"field":"group","type":"nominal","legend":null,"scale":{"type":"ordinal","domain":["blood","placenta","cCat","eCat","fCat"],"range":[22,22,13.3,11.5,15.5]}},
 "color":{"field":"group","type":"nominal","legend":null,"scale":{"type":"ordinal","domain":["blood","placenta","cCat","eCat","fCat"],"range":["#C8702F","#7468B0","#5B2E9A","#5B2E9A","#5B2E9A"]}}}},
{"data":{"name":"slant50"},"mark":{"type":"text","align":"center","baseline":"middle","angle":310,"fontSize":10,"color":"#222222"},"encoding":{"text":{"field":"text"}}},
{"data":{"name":"slant30"},"mark":{"type":"text","align":"center","baseline":"middle","angle":30,"fontSize":16,"color":"#222222"},"encoding":{"text":{"field":"text"}}}
]},
{"data":{"name":"blood"},"encoding":{
 "y":{"field":"pathway","type":"nominal","sort":null,"title":null,"scale":{"type":"point","padding":0,"range":[24,555]},"axis":{"orient":"left","offset":-834,"domain":false,"grid":false,"labelFontSize":15.8,"labelColor":"#111111","tickColor":"#111111","tickWidth":1.5,"tickSize":5,"labelPadding":4,"labelLimit":500}},
 "x":{"field":"score","type":"quantitative","title":"ReporterScore","scale":{"domain":[-6.3,10.3],"range":[834,1148],"nice":false,"zero":false},"axis":{"orient":"bottom","offset":-974,"values":[-5,0,5,10],"domain":false,"grid":false,"labelFontSize":16,"labelColor":"#111111","labelOffset":-5,"tickColor":"#111111","tickWidth":1.5,"tickSize":5,"titleFontSize":19,"titleFontWeight":"normal","titleColor":"#111111","titlePadding":3}}},
 "layer":[
 {"mark":{"type":"rule","color":"#DDDDDD","strokeWidth":1.5},"encoding":{"x2":{"datum":0}}},
 {"mark":{"type":"point","shape":"circle","filled":true,"opacity":1,"size":180},"encoding":{"color":{"field":"type","type":"nominal","title":"Type","scale":{"domain":["Increasing","Decreasing"],"range":["#F0AA3C","#549469"]},"legend":{"orient":"none","legendX":1007,"legendY":152,"titleFontSize":23.5,"titleColor":"#111111","labelFontSize":19.6,"labelColor":"#111111","symbolSize":256,"symbolType":"circle","symbolOpacity":1,"rowPadding":6,"titlePadding":11}}}}
 ]},
{"data":{"name":"placenta"},"encoding":{
 "y":{"field":"pathway","type":"nominal","sort":null,"title":null,"scale":{"type":"point","padding":0,"range":[636,1051]},"axis":{"orient":"left","offset":-838,"domain":false,"grid":false,"labelFontSize":15.8,"labelColor":"#111111","tickColor":"#111111","tickWidth":1.5,"tickSize":5,"labelPadding":4,"labelLimit":500}},
 "x":{"field":"score","type":"quantitative","title":"ReporterScore","scale":{"domain":[-6.37,11.02],"range":[838,1152],"nice":false,"zero":false},"axis":{"orient":"bottom","offset":-479,"values":[-5,0,5,10],"domain":false,"grid":false,"labelFontSize":16,"labelColor":"#111111","labelOffset":-5,"tickColor":"#111111","tickWidth":1.5,"tickSize":5,"titleFontSize":19,"titleFontWeight":"normal","titleColor":"#111111","titlePadding":3}}},
 "layer":[
 {"mark":{"type":"rule","color":"#DDDDDD","strokeWidth":1.5},"encoding":{"x2":{"datum":0}}},
 {"mark":{"type":"point","shape":"circle","filled":true,"opacity":1,"size":180},"encoding":{"color":{"field":"type","type":"nominal","title":"Type","scale":{"domain":["Increasing","Decreasing"],"range":["#F0AA3C","#549469"]},"legend":{"orient":"none","legendX":1001,"legendY":701,"titleFontSize":23.5,"titleColor":"#111111","labelFontSize":19.6,"labelColor":"#111111","symbolSize":256,"symbolType":"circle","symbolOpacity":1,"rowPadding":6,"titlePadding":9}}}}
 ]}
]}
